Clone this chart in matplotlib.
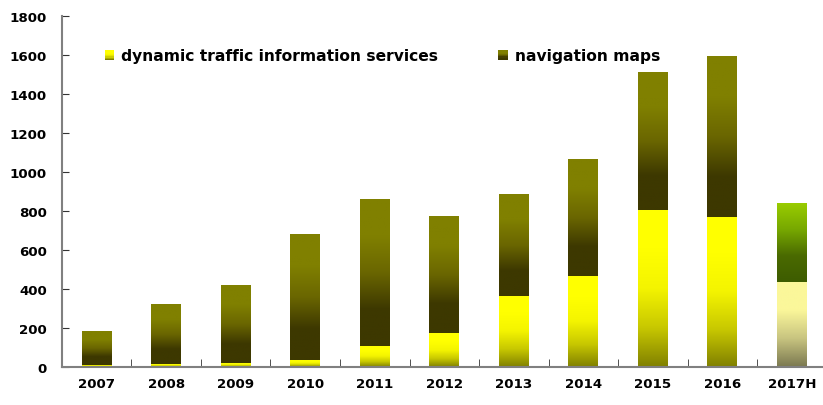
import numpy as np
import matplotlib
matplotlib.use("Agg")
import matplotlib.pyplot as plt
from matplotlib.colors import LinearSegmentedColormap
from matplotlib.patches import Rectangle
from matplotlib.legend_handler import HandlerBase

plt.rcParams['font.family'] = ['DejaVu Sans']
plt.rcParams['font.weight'] = 'bold'

years = ['2007', '2008', '2009', '2010', '2011', '2012', '2013', '2014', '2015', '2016', '2017H']
dynamic = [12, 18, 22, 36, 108, 174, 364, 467, 805, 769, 436]
totals = [186, 323, 420, 677, 856, 769, 882, 1062, 1508, 1590, 836]
navigation = [t - d for t, d in zip(totals, dynamic)]

# gradients, bottom -> top
dyn_cmap = LinearSegmentedColormap.from_list('dyn', ['#808000', '#c8c800', '#f4f400', '#ffff00', '#ffff00'])
nav_cmap = LinearSegmentedColormap.from_list('nav', ['#3d3800', '#3d3800', '#6a6600', '#808000', '#808000'])
dyn_h_cmap = LinearSegmentedColormap.from_list('dynh', ['#7a7850', '#c8c480', '#fbf79a', '#fbf79a'])
nav_h_cmap = LinearSegmentedColormap.from_list('navh', ['#3d5c00', '#4a6a00', '#77a800', '#99cc00'])

fig = plt.figure(figsize=(8.23, 4.06), dpi=100)
ax = fig.add_axes([0.0753, 0.0924, 0.929, 0.866])

x = np.arange(len(years))
w = 0.43
b1 = ax.bar(x, dynamic, w, color='none')
b2 = ax.bar(x, navigation, w, bottom=dynamic, color='none')

grad = np.linspace(0, 1, 256).reshape(-1, 1)


def fill(patch, cmap):
    px, py = patch.get_xy()
    ax.imshow(grad, cmap=cmap, origin='lower', aspect='auto', zorder=2,
              extent=[px, px + patch.get_width(), py, py + patch.get_height()])


for i, (p1, p2) in enumerate(zip(b1, b2)):
    last = i == len(years) - 1
    fill(p1, dyn_h_cmap if last else dyn_cmap)
    fill(p2, nav_h_cmap if last else nav_cmap)

ax.set_xlim(-0.5, len(years) - 0.5)
ax.set_ylim(0, 1800)
ax.set_yticks(range(0, 1801, 200))
ax.set_xticks(x)
ax.set_xticklabels(years)
ax.set_xticks(np.arange(len(years) + 1) - 0.5, minor=True)
ax.tick_params(axis='x', which='major', length=0, pad=7, labelsize=9.6)
ax.tick_params(axis='x', which='minor', length=6, direction='in', color='#333333')
ax.tick_params(axis='y', length=5, direction='in', color='#333333', labelsize=9.6, pad=11)
for s in ['top', 'right']:
    ax.spines[s].set_visible(False)
for s in ['left', 'bottom']:
    ax.spines[s].set_color('#808080')
    ax.spines[s].set_linewidth(1.5)


# legend swatches drawn as gradient squares
class GradHandler(HandlerBase):
    def __init__(self, cmap):
        super().__init__()
        self.cmap = cmap

    def create_artists(self, legend, orig_handle, xdescent, ydescent, width, height, fontsize, trans):
        arts = []
        n = 8
        s = height * 0.88
        x0 = width - s
        for k in range(n):
            arts.append(Rectangle((x0, -ydescent + height * 0.02 + s * k / n), s, s / n + 0.2,
                                  facecolor=self.cmap(k / (n - 1)), edgecolor='none', transform=trans))
        return arts


h1 = Rectangle((0, 0), 1, 1)
h2 = Rectangle((0, 0), 1, 1)
ax.legend([h1, h2], ['dynamic traffic information services', 'navigation maps'],
          handler_map={h1: GradHandler(dyn_cmap), h2: GradHandler(nav_cmap)},
          ncol=2, frameon=False, loc='upper left', bbox_to_anchor=(0.03, 0.948),
          handlelength=1.0, handletextpad=0.42, columnspacing=3.5, prop={'size': 11.2, 'weight': 'bold'})

fig.savefig('out.png', dpi=100)
